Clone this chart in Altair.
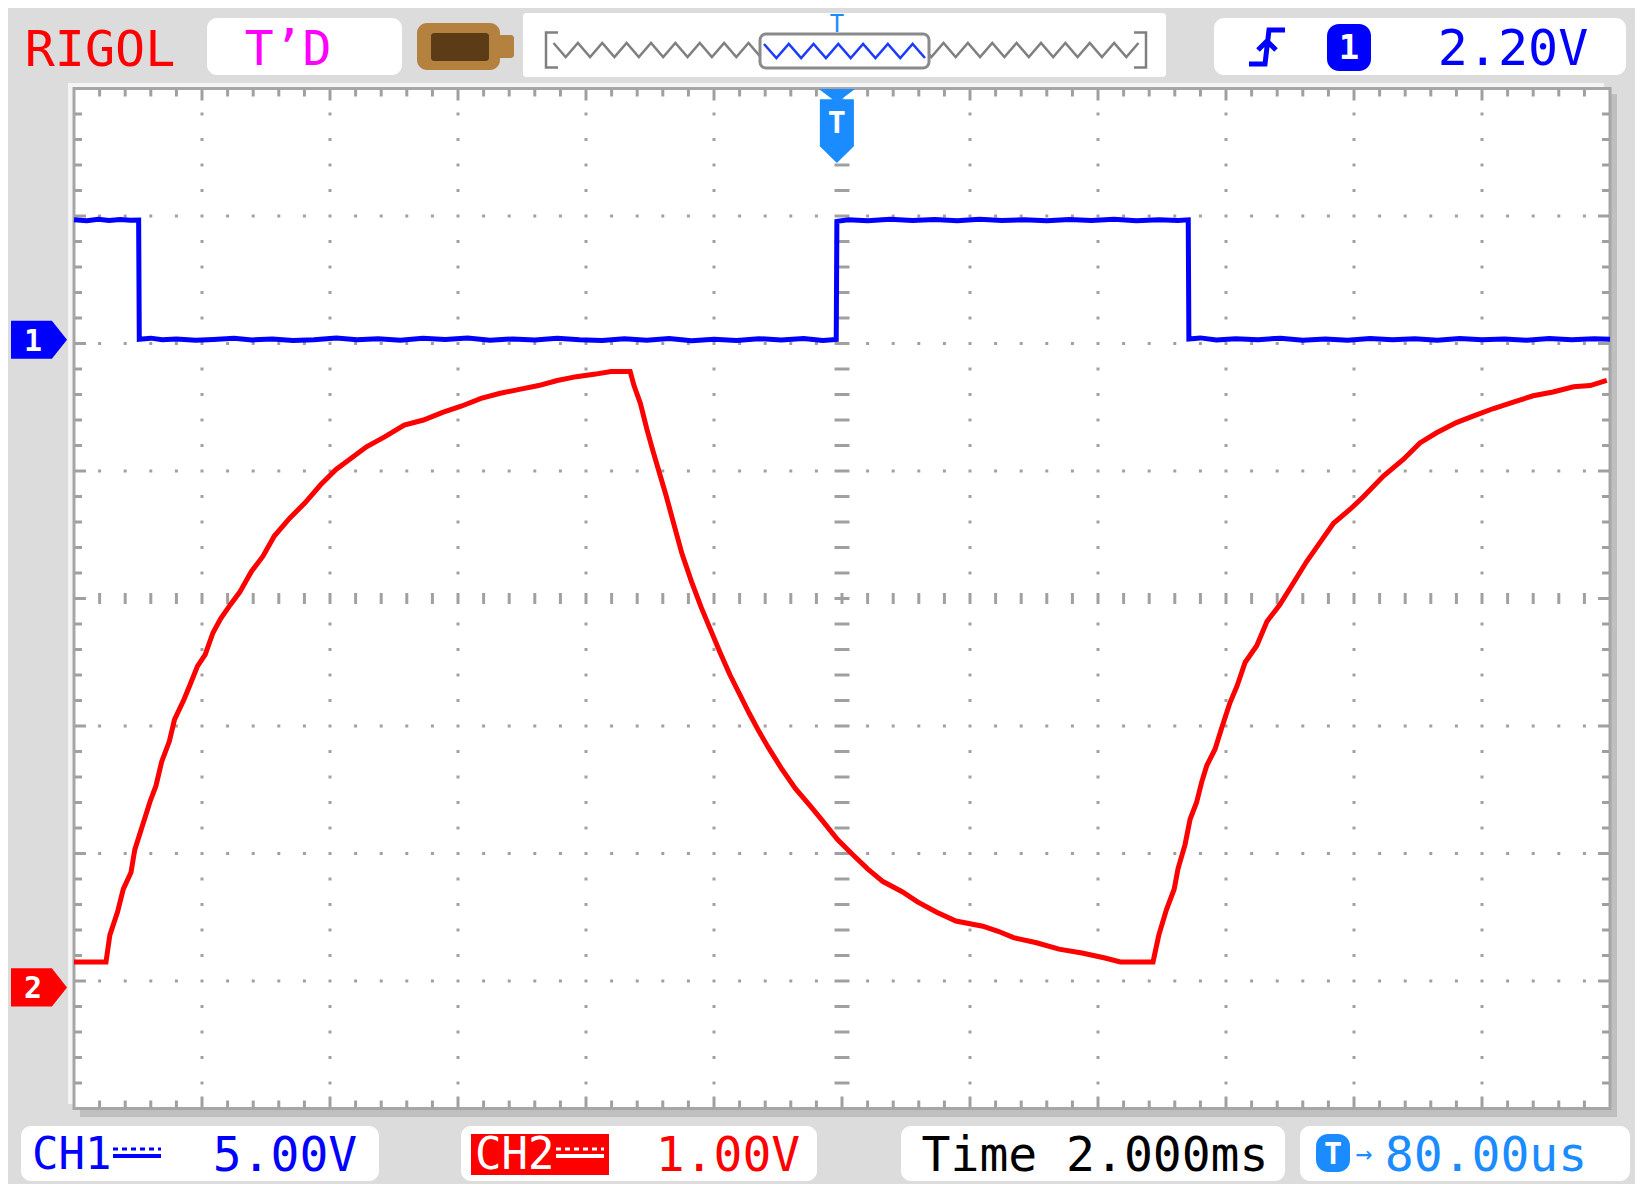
import altair as alt
import pandas as pd

# CH1 (blue, 5.00 V/div) : time in ms, volts
ch1_t = [-12.00, -11.80, -11.62, -11.45, -11.28, -11.12, -10.99, -10.98, -10.80, -10.62,
         -10.40, -10.10, -9.82, -9.50, -9.22, -8.90, -8.58, -8.25, -7.90, -7.58,
         -7.25, -6.90, -6.55, -6.20, -5.85, -5.50, -5.15, -4.80, -4.45, -4.10,
         -3.75, -3.40, -3.05, -2.70, -2.35, -2.00, -1.65, -1.30, -0.95, -0.60,
         -0.30, -0.09, -0.08, 0.10, 0.40, 0.75, 1.10, 1.45, 1.80, 2.15,
         2.50, 2.85, 3.20, 3.55, 3.90, 4.25, 4.60, 4.95, 5.25, 5.41,
         5.42, 5.60, 5.85, 6.15, 6.50, 6.85, 7.20, 7.55, 7.90, 8.25,
         8.60, 8.95, 9.30, 9.65, 10.00, 10.35, 10.70, 11.05, 11.40, 11.75,
         12.00]
ch1_v = [4.70, 4.66, 4.72, 4.67, 4.71, 4.68, 4.69, 0.02, 0.06, 0.00,
         0.03, -0.02, 0.01, 0.06, -0.01, 0.03, -0.03, 0.00, 0.07, 0.00,
         0.04, -0.02, 0.06, 0.01, 0.07, -0.02, 0.03, -0.01, 0.06, 0.00,
         -0.03, 0.04, -0.02, 0.05, -0.04, 0.02, -0.03, 0.04, -0.01, 0.05,
         -0.03, 0.01, 4.64, 4.70, 4.66, 4.72, 4.67, 4.71, 4.66, 4.72,
         4.67, 4.70, 4.66, 4.71, 4.67, 4.72, 4.66, 4.70, 4.67, 4.70,
         0.03, 0.07, -0.01, 0.04, 0.00, 0.06, -0.02, 0.03, -0.02, 0.05,
         0.00, 0.04, -0.02, 0.05, 0.00, 0.03, -0.02, 0.05, 0.00, 0.04,
         0.02]

# CH2 (red, 1.00 V/div) : time in ms, volts
ch2_t = [-12.00, -11.50, -11.44, -11.32, -11.23, -11.11, -11.05, -10.93, -10.81, -10.72,
         -10.63, -10.51, -10.43, -10.28, -10.19, -10.07, -9.95, -9.83, -9.71, -9.56,
         -9.41, -9.23, -9.05, -8.87, -8.63, -8.39, -8.15, -7.91, -7.67, -7.43,
         -7.14, -6.84, -6.54, -6.24, -5.94, -5.64, -5.34, -5.04, -4.74, -4.45,
         -4.15, -3.85, -3.61, -3.31, -3.25, -3.15, -3.05, -2.95, -2.85, -2.75,
         -2.62, -2.50, -2.35, -2.20, -2.05, -1.90, -1.75, -1.60, -1.45, -1.30,
         -1.15, -0.95, -0.73, -0.49, -0.31, -0.07, 0.17, 0.40, 0.64, 0.94,
         1.18, 1.48, 1.78, 2.20, 2.44, 2.68, 3.04, 3.39, 3.75, 4.11,
         4.35, 4.86, 4.95, 5.07, 5.19, 5.25, 5.36, 5.44, 5.54, 5.62,
         5.70, 5.83, 5.93, 6.06, 6.17, 6.30, 6.48, 6.64, 6.84, 7.05,
         7.26, 7.47, 7.68, 7.94, 8.15, 8.46, 8.77, 9.03, 9.29, 9.60,
         9.86, 10.18, 10.49, 10.80, 11.11, 11.43, 11.69, 11.95]
ch2_v = [0.20, 0.20, 0.41, 0.59, 0.77, 0.90, 1.08, 1.27, 1.46, 1.58,
         1.77, 1.93, 2.10, 2.26, 2.37, 2.52, 2.61, 2.78, 2.89, 3.00,
         3.10, 3.26, 3.38, 3.54, 3.68, 3.80, 3.94, 4.06, 4.15, 4.24,
         4.32, 4.41, 4.45, 4.51, 4.56, 4.62, 4.66, 4.69, 4.72, 4.76,
         4.79, 4.81, 4.83, 4.83, 4.72, 4.58, 4.38, 4.20, 4.03, 3.86,
         3.62, 3.40, 3.18, 2.98, 2.80, 2.62, 2.45, 2.30, 2.15, 2.01,
         1.88, 1.72, 1.56, 1.42, 1.31, 1.16, 1.04, 0.93, 0.83, 0.75,
         0.67, 0.59, 0.52, 0.48, 0.44, 0.39, 0.35, 0.30, 0.27, 0.23,
         0.20, 0.20, 0.41, 0.61, 0.77, 0.93, 1.12, 1.32, 1.45, 1.61,
         1.74, 1.87, 2.03, 2.23, 2.36, 2.55, 2.68, 2.87, 3.00, 3.17,
         3.34, 3.49, 3.64, 3.75, 3.85, 4.01, 4.14, 4.27, 4.35, 4.43,
         4.48, 4.54, 4.59, 4.64, 4.67, 4.71, 4.72, 4.76]

# scope settings shown on screen
CH1_VDIV, CH2_VDIV = 5.0, 1.0          # V/div
CH1_POS, CH2_POS = 2.03, -3.05         # ground markers, divisions from centre
TRIG_OFFSET_MS = -0.08                 # trigger position (T->80.00us)
header_brand = "RIGOL"
header_state = "T\u2019D"
trig_level_label = "2.20V"
ch1_label, ch2_label = "5.00V", "1.00V"
time_label = "Time 2.000ms"
offset_label = "80.00us"

# ---------------- styling ----------------
MONO = "DejaVu Sans Mono"
BG = "#dcdcdc"
GRID = "#a0a0a0"
BLUE = "#0000ff"
RED = "#ff0000"
LBLUE = "#1a8cff"
MAG = "#ff00ff"

W, H = 1627, 1176
CX, CY = 842.0, 598.5          # screen centre (page px)
PX_MS, PX_DIV = 64.0, 127.5    # px per ms (2 ms/div), px per vertical division


def X(px):
    return (px - CX) / PX_MS


def Y(py):
    return (CY - py) / PX_DIV


XS = alt.Scale(domain=[X(8), X(8 + W)], nice=False, zero=False)
YS = alt.Scale(domain=[Y(8 + H), Y(8)], nice=False, zero=False)


def xy(xf="x", yf="y"):
    return dict(x=alt.X(f"{xf}:Q", scale=XS, axis=None),
                y=alt.Y(f"{yf}:Q", scale=YS, axis=None))


def box(x1, y1, x2, y2, fill, stroke=None, sw=0, r=0):
    df = pd.DataFrame({"x": [X(x1)], "x2": [X(x2)], "y": [Y(y1)], "y2": [Y(y2)]})
    kw = dict(fill=fill, cornerRadius=r, opacity=1)
    if stroke:
        kw.update(stroke=stroke, strokeWidth=sw)
    else:
        kw.update(strokeWidth=0)
    return alt.Chart(df).mark_rect(**kw).encode(x2="x2:Q", y2="y2:Q", **xy())


def label(px, py, s, color, size=50, weight="normal", align="center"):
    df = pd.DataFrame({"x": [X(px)], "y": [Y(py + 0.365 * size)], "t": [s]})
    return alt.Chart(df).mark_text(font=MONO, fontSize=size, fontWeight=weight, color=color,
                                   align=align, baseline="alphabetic").encode(text="t:N", **xy())


def glyph(px, py, path, side, color, filled=True, sw=0):
    df = pd.DataFrame({"x": [X(px)], "y": [Y(py)]})
    kw = dict(shape=path, size=side * side, filled=filled, color=color, opacity=1,
              strokeWidth=(0 if filled else sw))
    return alt.Chart(df).mark_point(**kw).encode(**xy())


def hline(x1, x2, py, color, sw, dash=None):
    df = pd.DataFrame({"x": [X(x1)], "x2": [X(x2)], "y": [Y(py)]})
    kw = dict(color=color, strokeWidth=sw)
    if dash:
        kw["strokeDash"] = dash
    return alt.Chart(df).mark_rule(**kw).encode(x2="x2:Q", **xy())


def zigzag(half_periods, amp, bracket=None):
    x0, x1 = (-0.975, 0.975) if bracket else (-1.0, 1.0)
    step = (x1 - x0) / half_periods
    pts = [f"{x0 + k * step:.4f},{(amp if k % 2 else -amp):.4f}" for k in range(half_periods + 1)]
    d = "M" + " L".join(pts)
    if bracket:
        b = bracket
        d = (f"M-0.96,{-b} L-1,{-b} L-1,{b} L-0.96,{b} " + d +
             f" M0.96,{-b} L1,{-b} L1,{b} L0.96,{b}")
    return d


layers = []

# ---------------- graticule ----------------
layers.append(box(68, 83, 1604, 1104, "#f4f4f4"))
layers.append(box(80, 94, 1617, 1117, "#bfbfbf"))
layers.append(box(74, 88.5, 1610, 1108.5, "white", stroke="#a6a6a6", sw=3))

minor_x = [round(-12 + 0.4 * i, 3) for i in range(1, 60)]
minor_y = [round(-4 + 0.2 * j, 3) for j in range(1, 40)]
major_x = [float(v) for v in range(-10, 11, 2) if v != 0]
major_y = [float(v) for v in range(-3, 4) if v != 0]

dots = []
for gx in major_x:
    for gy in minor_y:
        if gy != 0:
            dots.append((gx, gy))
for gy in major_y:
    for gx in minor_x:
        if gx not in major_x and gx != 0:
            dots.append((gx, gy))
ddf = pd.DataFrame(dots, columns=["x", "y"])
layers.append(alt.Chart(ddf).mark_point(shape="square", size=9, filled=True, color=GRID,
                                        opacity=1, strokeWidth=0).encode(**xy()))

# centre cross-hair dashes
hc = pd.DataFrame({"x": minor_x, "y": [0.0] * len(minor_x)})
layers.append(alt.Chart(hc).mark_tick(orient="vertical", size=11, thickness=3, color=GRID,
                                      opacity=1).encode(**xy()))
vc = pd.DataFrame({"x": [0.0] * len(minor_y), "y": minor_y})
layers.append(alt.Chart(vc).mark_tick(orient="horizontal", size=15, thickness=3, color=GRID,
                                      opacity=1).encode(**xy()))

# border ticks
vt = []
for i, gx in enumerate(minor_x):
    L = 11 if (i + 1) % 5 == 0 else 7
    vt.append((gx, Y(88.5 + L / 2 + 1), L))
    vt.append((gx, Y(1108.5 - L / 2 - 1), L))
vtdf = pd.DataFrame(vt, columns=["x", "y", "L"])
layers.append(alt.Chart(vtdf).mark_tick(orient="vertical", thickness=3, color=GRID, opacity=1)
              .encode(size=alt.Size("L:Q", scale=None), **xy()))
ht = []
for j, gy in enumerate(minor_y):
    L = 11 if (j + 1) % 5 == 0 else 7
    ht.append((X(74 + L / 2 + 1), gy, L))
    ht.append((X(1610 - L / 2 - 1), gy, L))
htdf = pd.DataFrame(ht, columns=["x", "y", "L"])
layers.append(alt.Chart(htdf).mark_tick(orient="horizontal", thickness=3, color=GRID, opacity=1)
              .encode(size=alt.Size("L:Q", scale=None), **xy()))

# ---------------- traces ----------------
df1 = pd.DataFrame({"t": ch1_t, "v": ch1_v})
df1["i"] = range(len(df1))
layers.append(alt.Chart(df1).transform_calculate(yd=f"datum.v / {CH1_VDIV} + {CH1_POS}")
              .mark_line(color=BLUE, strokeWidth=5)
              .encode(x=alt.X("t:Q", scale=XS, axis=None), y=alt.Y("yd:Q", scale=YS, axis=None),
                      order=alt.Order("i:Q")))
df2 = pd.DataFrame({"t": ch2_t, "v": ch2_v})
df2["i"] = range(len(df2))
layers.append(alt.Chart(df2).transform_calculate(yd=f"datum.v / {CH2_VDIV} + {CH2_POS}")
              .mark_line(color=RED, strokeWidth=5)
              .encode(x=alt.X("t:Q", scale=XS, axis=None), y=alt.Y("yd:Q", scale=YS, axis=None),
                      order=alt.Order("i:Q")))

# ---------------- channel / trigger markers ----------------
PENNANT = "M-1,-0.68 L0.46,-0.68 L1,0 L0.46,0.68 L-1,0.68 Z"
p1 = CY - CH1_POS * PX_DIV
p2 = CY - CH2_POS * PX_DIV
layers.append(glyph(39, p1, PENNANT, 56, BLUE))
layers.append(label(33, p1, "1", "white", 30, "bold"))
layers.append(glyph(39, p2, PENNANT, 56, RED))
layers.append(label(33, p2, "2", "white", 30, "bold"))

TRIG = ("M-0.49,-1 L0.49,-1 L0.12,-0.72 L0.46,-0.72 L0.46,0.55 L0,1 "
        "L-0.46,0.55 L-0.46,-0.72 L-0.12,-0.72 Z")
tx = CX + TRIG_OFFSET_MS * PX_MS
layers.append(glyph(tx, 126, TRIG, 74, LBLUE))
layers.append(label(tx, 122, "T", "white", 30, "bold"))

# ---------------- header ----------------
layers.append(label(100, 48, header_brand, RED, 50))
layers.append(box(207, 18, 402, 75, "white", r=10))
layers.append(label(288, 47, header_state, MAG, 48))
# battery-like memory icon
layers.append(box(417, 23, 500, 70, "#b5813f", r=10))
layers.append(box(497, 35, 514, 58, "#b5813f", r=3))
layers.append(box(431, 33, 489, 61, "#5b3c16", r=3))
# memory bar
layers.append(box(523, 13, 1166, 77, "white", r=3))
layers.append(glyph(846, 50, zigzag(48, 0.0233, bracket=0.058), 600, "#808080", filled=False, sw=2.5))
layers.append(box(760, 34, 929, 68, "white", stroke="#8a8a8a", sw=3, r=6))
layers.append(glyph(844.5, 51, zigzag(13, 0.087), 161, "#1e3cff", filled=False, sw=2.5))
layers.append(label(tx, 23, "T", LBLUE, 24))
# trigger box
layers.append(box(1214, 18, 1626, 75, "white", r=10))
EDGE = "M0.9,-0.85 L0.1,-0.85 L-0.1,0.85 L-0.9,0.85 M-0.45,0.15 L0,-0.3 L0.45,0.15"
layers.append(glyph(1267, 47, EDGE, 40, BLUE, filled=False, sw=5))
layers.append(box(1327, 24, 1371, 71, BLUE, r=12))
layers.append(label(1349, 47, "1", "white", 34, "bold"))
layers.append(label(1513, 47, trig_level_label, BLUE, 50))

# ---------------- footer ----------------
FY1, FY2, FC = 1126, 1181, 1153
FS = 48
layers.append(box(21, FY1, 379, FY2, "white", r=10))
layers.append(label(32, FC, "CH1", BLUE, 44, align="left"))
layers.append(hline(113, 161, FC - 4, BLUE, 3, dash=[5, 4]))
layers.append(hline(113, 161, FC + 3, BLUE, 4))
layers.append(label(285, FC, ch1_label, BLUE, FS))

layers.append(box(461, FY1, 817, FY2, "white", r=10))
layers.append(box(471, FY1 + 8, 609, FY2 - 6, RED))
layers.append(label(475, FC, "CH2", "white", 44, align="left"))
layers.append(hline(556, 604, FC - 4, "white", 3, dash=[5, 4]))
layers.append(hline(556, 604, FC + 3, "white", 4))
layers.append(label(728, FC, ch2_label, RED, FS))

layers.append(box(901, FY1, 1285, FY2, "white", r=10))
layers.append(label(1095, FC, time_label, "black", FS))

layers.append(box(1300, FY1, 1630, FY2, "white", r=10))
layers.append(box(1316, FC - 19, 1350, FC + 19, LBLUE, r=12))
layers.append(label(1333, FC, "T", "white", 30, "bold"))
layers.append(label(1364, FC, "\u2192", LBLUE, 28))
layers.append(label(1486, FC, offset_label, LBLUE, FS))

chart = alt.layer(*layers).properties(
    width=W, height=H, background=BG, padding=0,
    autosize=alt.AutoSizeParams(type="none"),
).configure_view(strokeWidth=0)

chart.save("out.html", embed_options={"renderer": "svg", "actions": False})
